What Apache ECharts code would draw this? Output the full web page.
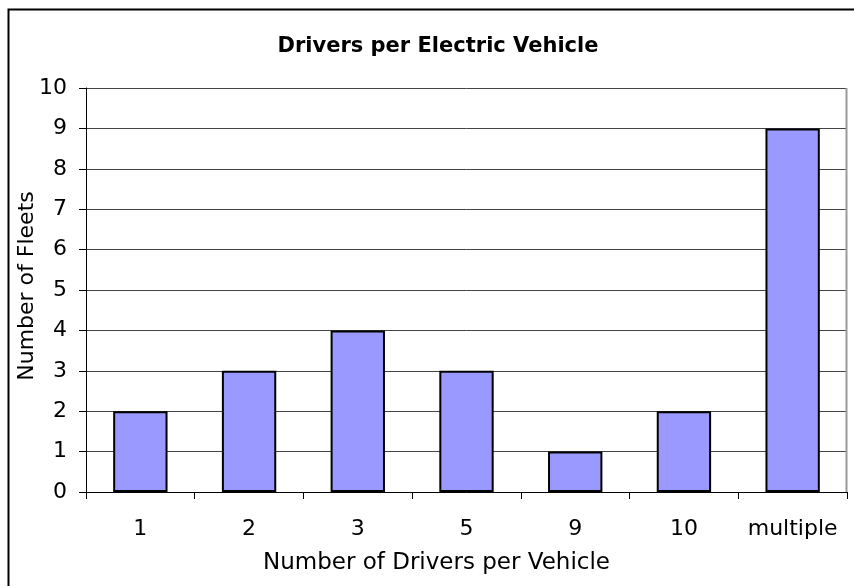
<!DOCTYPE html>
<html>
<head>
<meta charset="utf-8">
<script src="https://cdn.jsdelivr.net/npm/echarts@6/dist/echarts.min.js"></script>
<style>html,body{margin:0;padding:0;background:#fff}#c{width:854px;height:586px}</style>
</head>
<body>
<div id="c"></div>
<script>
const categories = ['1', '2', '3', '5', '9', '10', 'multiple'];
const fleets = [2, 3, 4, 3, 1, 2, 9];
const yTicks = [0, 10, 1];

const chart = echarts.init(document.getElementById('c'), null, {renderer: 'canvas'});
const font = '"DejaVu Sans", sans-serif';
chart.setOption({
  animation: false,
  backgroundColor: '#fff',
  graphic: [{
    type: 'rect', z: 100, silent: true,
    shape: {x: 8.5, y: 9.5, width: 900, height: 700},
    style: {fill: 'none', stroke: '#000', lineWidth: 2}
  }, {
    type: 'line', z: 50, silent: true,
    shape: {x1: 846.5, y1: 88, x2: 846.5, y2: 492},
    style: {stroke: '#999', lineWidth: 2}
  }],
  title: {
    text: 'Drivers per Electric Vehicle',
    left: 433, top: 31, textAlign: 'center',
    textStyle: {fontFamily: font, fontWeight: 'bold', fontSize: 21, color: '#000'}
  },
  grid: {left: 86, right: 7, top: 88, bottom: 94, containLabel: false, outerBoundsMode: 'none'},
  xAxis: {
    type: 'category', data: categories,
    name: 'Number of Drivers per Vehicle', nameLocation: 'middle', nameGap: 60,
    nameMoveOverlap: false,
    nameTextStyle: {fontFamily: font, fontSize: 23, color: '#000', padding: [0, 60, 0, 0]},
    axisLine: {lineStyle: {color: '#000', width: 1}},
    axisTick: {show: true, interval: 0, alignWithLabel: false, length: 7, lineStyle: {color: '#000'}},
    axisLabel: {interval: 0, fontFamily: font, fontSize: 22, color: '#000', margin: 26}
  },
  yAxis: {
    type: 'value', min: yTicks[0], max: yTicks[1], interval: yTicks[2],
    name: 'Number of Fleets', nameLocation: 'middle', nameGap: 48,
    nameMoveOverlap: false,
    nameTextStyle: {fontFamily: font, fontSize: 22, color: '#000', padding: [0, 0, 0, 8]},
    axisLine: {show: true, lineStyle: {color: '#000', width: 1}},
    axisTick: {show: true, length: 7, lineStyle: {color: '#000'}},
    axisLabel: {fontFamily: font, fontSize: 22, color: '#000', margin: 19},
    splitLine: {lineStyle: {color: '#444', width: 1}}
  },
  series: [{
    type: 'bar', data: fleets, barWidth: '50%',
    itemStyle: {color: '#9999FF', borderColor: '#000', borderWidth: 2}
  }]
});
</script>
</body>
</html>
